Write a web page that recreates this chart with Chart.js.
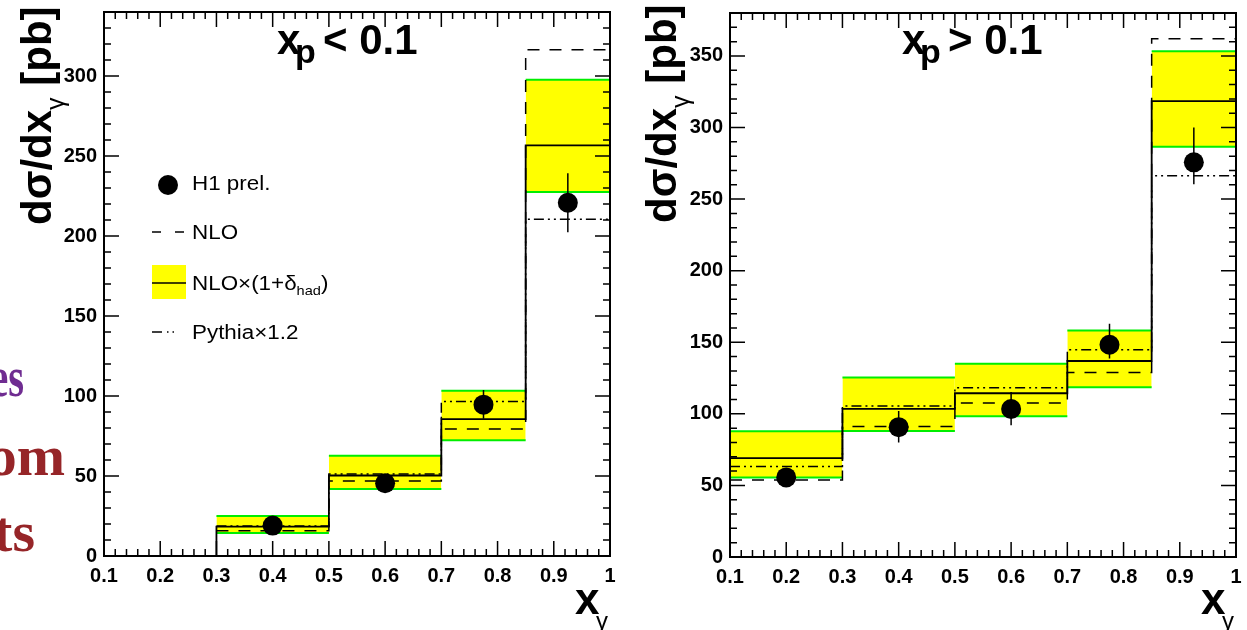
<!DOCTYPE html>
<html>
<head>
<meta charset="utf-8">
<script src="https://cdn.jsdelivr.net/npm/chart.js@4.4.1/dist/chart.umd.min.js"></script>
<style>
  body { margin: 0; background: #fff; }
  #page { position: relative; width: 1247px; height: 630px; overflow: hidden;
          font-family: 'Liberation Sans', Arial, Helvetica, sans-serif; color: #000; }
  canvas { position: absolute; top: 0; }
  .t { position: absolute; white-space: nowrap; }
  .big { font-weight: bold; font-size: 42px; line-height: 42px; }
  .sub { font-weight: bold; font-size: 34px; line-height: 34px; }
  .ytitle { font-weight: bold; font-size: 42px; line-height: 42px;
            transform-origin: left top; transform: rotate(-90deg); }
  .ytitle .g { font-weight: normal; font-size: 25px; position: relative; top: 13px; }
  .xt { font-weight: bold; font-size: 44px; line-height: 44px; }
  .xg { font-size: 24px; line-height: 24px; }
  .leg { font-size: 20px; line-height: 20px; transform-origin: left center; transform: scaleX(1.12); }
  .leg sub { font-size: 13px; vertical-align: -5px; }
  .slide { font-family: 'Liberation Serif', 'Times New Roman', serif; font-weight: bold;
           font-size: 58px; line-height: 58px; width: 200px; text-align: right; transform-origin: right center; }
</style>
</head>
<body>
<div id="page">
  <div class="t slide" style="left:-176px;top:348px;color:#6f2c91;transform:scaleX(0.7)">es</div>
  <div class="t slide" style="left:-135px;top:427px;color:#962528">om</div>
  <div class="t slide" style="left:-165px;top:503px;color:#962528">ts</div>

  <canvas id="low" width="640" height="630" style="left:0"></canvas>
  <canvas id="high" width="607" height="630" style="left:640px"></canvas>

  <!-- panel titles -->
  <div class="t big" style="left:277px;top:19px">x</div>
  <div class="t sub" style="left:295px;top:34px">p</div>
  <div class="t big" style="left:323px;top:19px">&lt; 0.1</div>
  <div class="t big" style="left:902px;top:19px">x</div>
  <div class="t sub" style="left:920px;top:34px">p</div>
  <div class="t big" style="left:948px;top:19px">&gt; 0.1</div>

  <!-- axis titles -->
  <div class="t ytitle" style="left:16px;top:225px">dσ/dx<span class="g">γ</span> [pb]</div>
  <div class="t ytitle" style="left:641px;top:223px">dσ/dx<span class="g">γ</span> [pb]</div>
  <div class="t xt" style="left:575px;top:577px">x</div>
  <div class="t xg" style="left:596px;top:609px">γ</div>
  <div class="t xt" style="left:1201px;top:577px">x</div>
  <div class="t xg" style="left:1222px;top:609px">γ</div>

  <!-- legend -->
  <svg class="t" style="left:0;top:0" width="640" height="630">
    <circle cx="168" cy="185" r="10" fill="#000"/>
    <line x1="152" y1="232" x2="186" y2="232" stroke="#000" stroke-width="1.5" stroke-dasharray="9 14"/>
    <rect x="152" y="265" width="34" height="34" fill="#ffff00"/>
    <line x1="152" y1="283" x2="186" y2="283" stroke="#000" stroke-width="1.5"/>
    <line x1="152" y1="332" x2="186" y2="332" stroke="#000" stroke-width="1.5" stroke-dasharray="10 5 1.5 4 1.5 20"/>
  </svg>
  <div class="t leg" style="left:192px;top:173px">H1 prel.</div>
  <div class="t leg" style="left:192px;top:222px">NLO</div>
  <div class="t leg" style="left:192px;top:273px">NLO×(1+δ<sub>had</sub>)</div>
  <div class="t leg" style="left:192px;top:322px">Pythia×1.2</div>
</div>

<script>
// axis labels
const xTicks = [0.1, 0.2, 0.3, 0.4, 0.5, 0.6, 0.7, 0.8, 0.9, 1];
const yTicksLow = [0, 50, 100, 150, 200, 250, 300];
const yTicksHigh = [0, 50, 100, 150, 200, 250, 300, 350];

// x_p < 0.1
const lowEdges   = [0.3, 0.5, 0.7, 0.85, 1.0];
const lowCentres = [0.4, 0.6, 0.775, 0.925];
const lowH1      = [19, 45.5, 94.6, 220.8];
const lowH1Down  = [16, 42, 85.8, 202.4];
const lowH1Up    = [22, 49, 103.7, 239.2];
const lowNlo     = [15.8, 46.8, 79.3, 316.4];
const lowNloHad  = [18.3, 50.3, 85.6, 256.7];
const lowBandLo  = [14.4, 41.8, 72.4, 227.5];
const lowBandHi  = [25, 62.6, 103.3, 297.6];
const lowPythia  = [18.8, 51.2, 96.6, 210.4];

// x_p > 0.1
const highEdges   = [0.1, 0.3, 0.5, 0.7, 0.85, 1.0];
const highCentres = [0.2, 0.4, 0.6, 0.775, 0.925];
const highH1      = [55.6, 90.7, 103.4, 148.3, 275.7];
const highH1Down  = [51, 80, 92, 138.6, 260.3];
const highH1Up    = [60, 102, 115.3, 163, 300];
const highNlo     = [53.7, 91.1, 107.6, 128.8, 362.1];
const highNloHad  = [69, 103.4, 114.4, 136.9, 318.4];
const highBandLo  = [55.6, 88.1, 98.3, 118.5, 286.6];
const highBandHi  = [87.9, 125.3, 135, 158.3, 353.3];
const highPythia  = [63.2, 105.5, 118.3, 144.8, 266.4];

const YELLOW = '#ffff00';
const GREEN = '#00ee00';
const tickFont = { family: "'Liberation Sans', Arial, sans-serif", weight: 'bold', size: 20 };

// histogram outline through the bin corners
function histo(edges, vals, fromZero) {
  const pts = fromZero ? [{ x: edges[0], y: 0 }] : [];
  vals.forEach((v, i) => pts.push({ x: edges[i], y: v }, { x: edges[i + 1], y: v }));
  return pts;
}

// vertical error bars, separated by gaps
function errorBars(xs, lo, hi) {
  const pts = [];
  xs.forEach((x, i) => pts.push({ x, y: lo[i] }, { x, y: hi[i] }, { x, y: null }));
  return pts;
}

function makeDatasets(d) {
  const sets = [];
  d.bandLo.forEach((lo, i) => {
    const span = [d.edges[i], d.edges[i + 1]];
    sets.push({ data: span.map(x => ({ x, y: lo })), borderColor: GREEN, borderWidth: 2, fill: false, order: 10 });
    sets.push({ data: span.map(x => ({ x, y: d.bandHi[i] })), borderColor: GREEN, borderWidth: 2,
                backgroundColor: YELLOW, fill: '-1', order: 10 });
  });
  sets.push({ data: histo(d.edges, d.pythia, false), borderColor: '#000', borderWidth: 1.5,
              borderDash: [10, 4, 2, 4, 2, 4], fill: false, order: 6 });
  sets.push({ data: histo(d.edges, d.nlo, false), borderColor: '#000', borderWidth: 1.5,
              borderDash: [12, 10], fill: false, order: 5 });
  sets.push({ data: histo(d.edges, d.nloHad, d.fromZero), borderColor: '#000', borderWidth: 1.8,
              fill: false, order: 4 });
  sets.push({ data: errorBars(d.centres, d.h1Down, d.h1Up), borderColor: '#000', borderWidth: 1.5,
              fill: false, spanGaps: false, order: 2 });
  sets.push({ data: d.centres.map((x, i) => ({ x, y: d.h1[i] })), showLine: false, pointRadius: 10,
              pointBackgroundColor: '#000', pointBorderWidth: 0, order: 1 });
  return sets;
}

// ROOT style frame with inward ticks on all four sides
const frameTicks = {
  id: 'frameTicks',
  afterDatasetsDraw(chart, args, o) {
    const { ctx, chartArea: a, scales: { x, y } } = chart;
    ctx.save();
    ctx.strokeStyle = '#000';
    ctx.lineWidth = 1.5;
    ctx.beginPath();
    const nx = Math.round((x.max - x.min) / o.xMinor);
    for (let i = 0; i <= nx; i++) {
      const px = x.getPixelForValue(x.min + i * o.xMinor);
      const len = i % o.xEvery === 0 ? o.major : o.minor;
      ctx.moveTo(px, a.bottom); ctx.lineTo(px, a.bottom - len);
      ctx.moveTo(px, a.top); ctx.lineTo(px, a.top + len);
    }
    const ny = Math.floor((y.max - y.min) / o.yMinor + 1e-6);
    for (let i = 0; i <= ny; i++) {
      const py = y.getPixelForValue(y.min + i * o.yMinor);
      const len = i % o.yEvery === 0 ? o.major : o.minor;
      ctx.moveTo(a.left, py); ctx.lineTo(a.left + len, py);
      ctx.moveTo(a.right, py); ctx.lineTo(a.right - len, py);
    }
    ctx.stroke();
    ctx.lineWidth = 2;
    ctx.strokeRect(a.left, a.top, a.right - a.left, a.bottom - a.top);
    ctx.restore();
  }
};

function drawPanel(id, d, yMax, yTicks, box) {
  return new Chart(document.getElementById(id), {
    type: 'line',
    data: { datasets: makeDatasets(d) },
    options: {
      responsive: false,
      animation: false,
      events: [],
      layout: { padding: box.padding },
      elements: { point: { radius: 0 }, line: { tension: 0 } },
      plugins: {
        legend: { display: false },
        tooltip: { enabled: false },
        filler: { drawTime: 'beforeDatasetsDraw' },
        frameTicks: { xMinor: 0.02, xEvery: 5, yMinor: 10, yEvery: 5, major: 15, minor: 7 }
      },
      scales: {
        x: {
          type: 'linear', min: 0.1, max: 1,
          grid: { display: false, drawTicks: false }, border: { display: false },
          afterBuildTicks: s => { s.ticks = xTicks.map(v => ({ value: v })); },
          afterFit: s => { s.height = box.xHeight; s.paddingLeft = 0; s.paddingRight = 0; },
          ticks: { autoSkip: false, maxRotation: 0, padding: 8, color: '#000', font: tickFont,
                   callback: v => String(v) }
        },
        y: {
          type: 'linear', min: 0, max: yMax,
          grid: { display: false, drawTicks: false }, border: { display: false },
          afterBuildTicks: s => { s.ticks = yTicks.map(v => ({ value: v })); },
          afterFit: s => { s.width = box.yWidth; s.paddingTop = 0; s.paddingBottom = 0; },
          ticks: { padding: 7, color: '#000', font: tickFont, callback: v => String(v) }
        }
      }
    },
    plugins: [frameTicks]
  });
}

drawPanel('low', {
  edges: lowEdges, centres: lowCentres, h1: lowH1, h1Down: lowH1Down, h1Up: lowH1Up,
  nlo: lowNlo, nloHad: lowNloHad, bandLo: lowBandLo, bandHi: lowBandHi, pythia: lowPythia, fromZero: true
}, 340, yTicksLow, { padding: { top: 12, right: 30, bottom: 0, left: 0 }, xHeight: 74, yWidth: 104 });

drawPanel('high', {
  edges: highEdges, centres: highCentres, h1: highH1, h1Down: highH1Down, h1Up: highH1Up,
  nlo: highNlo, nloHad: highNloHad, bandLo: highBandLo, bandHi: highBandHi, pythia: highPythia, fromZero: false
}, 380, yTicksHigh, { padding: { top: 13, right: 11, bottom: 0, left: 0 }, xHeight: 73, yWidth: 90 });
</script>
</body>
</html>
